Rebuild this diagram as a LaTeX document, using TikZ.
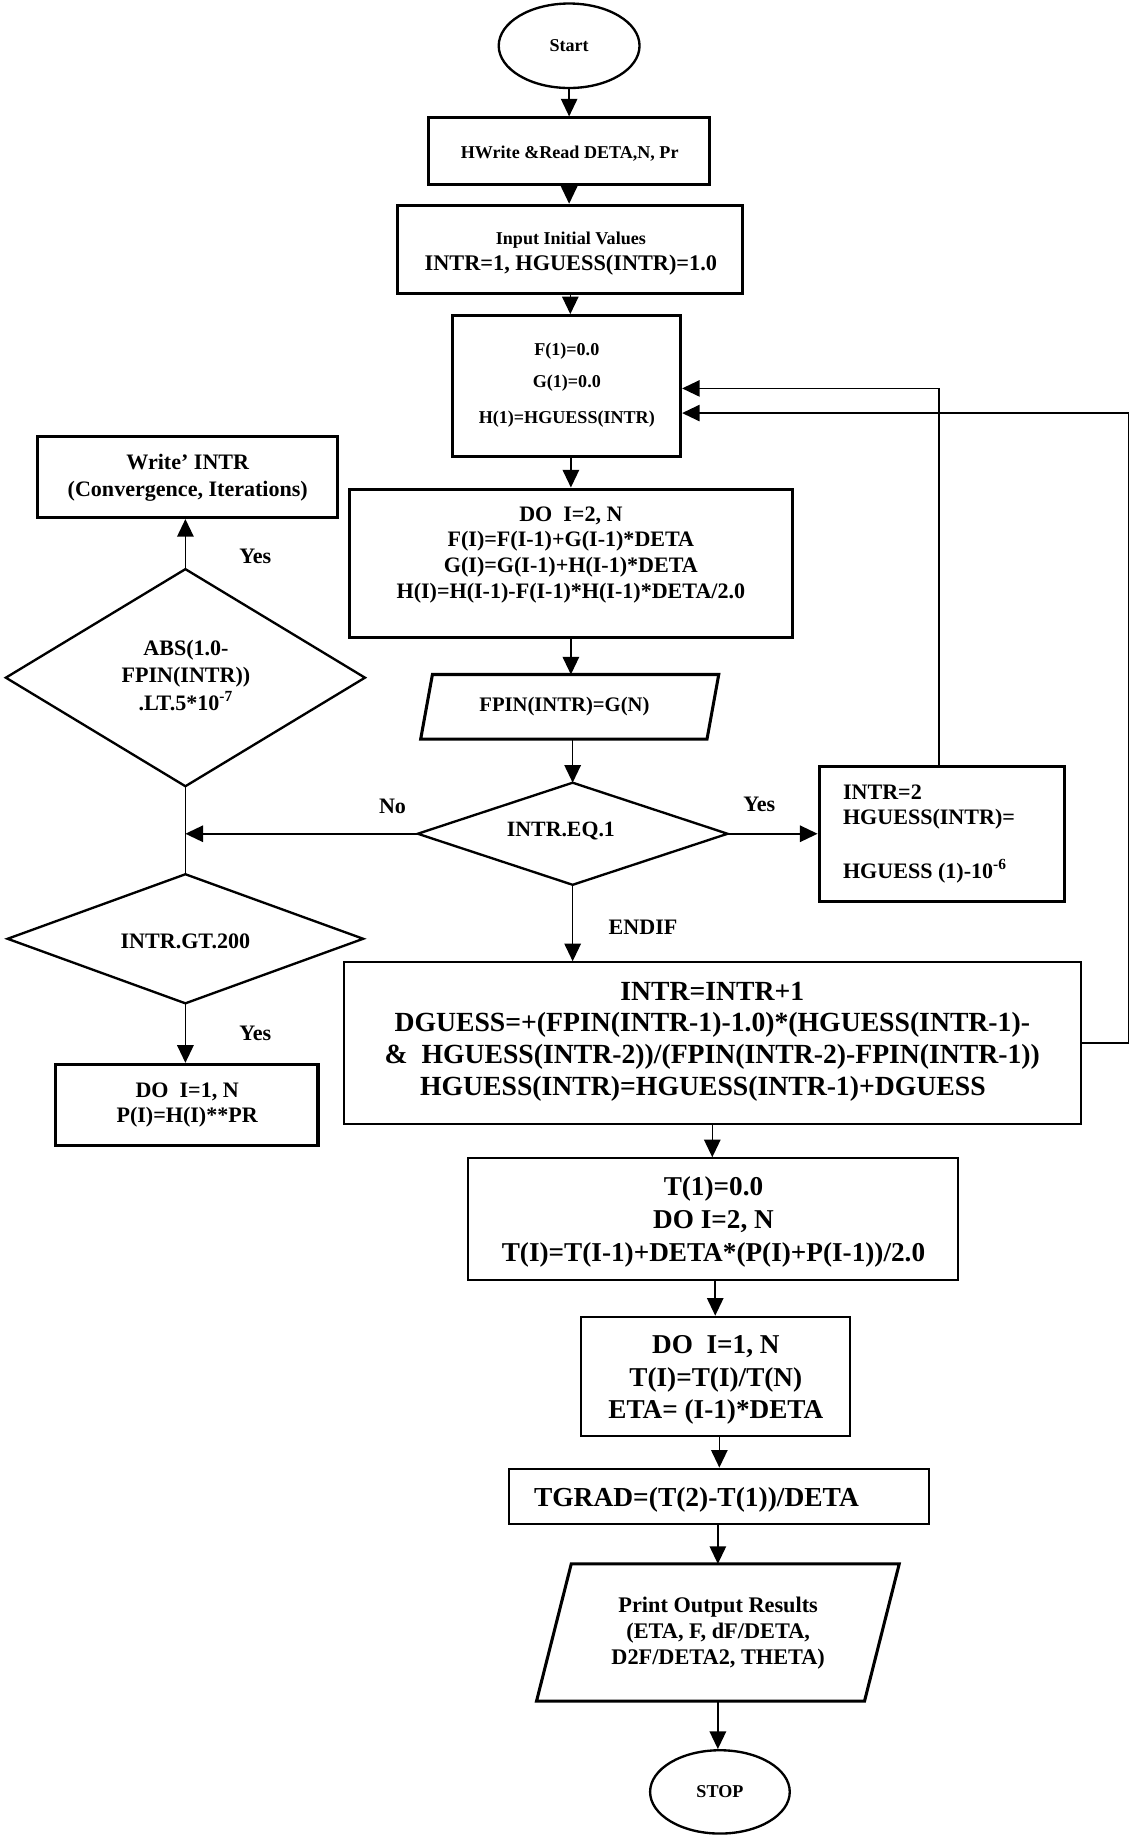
\documentclass[tikz,border=0pt]{standalone}
\usepackage{fontspec}
\setmainfont{Liberation Serif}
\usetikzlibrary{arrows.meta,shapes.geometric,calc}
\begin{document}
\begin{tikzpicture}[x=0.5pt,y=-0.5pt,
  wire/.style={line width=0.65pt},
  conn/.style={wire,-{Triangle[length=7.5pt,width=7pt]}},
  bbox/.style={draw,line width=1.3pt,inner sep=0pt},
  tbox/.style={draw,line width=0.85pt,inner sep=0pt},
  ghost/.style={inner sep=0pt,outer sep=0pt},
  dia/.style={line width=1pt,line join=miter},
  tx/.style={inner sep=0pt,align=center},
  lbl/.style={inner sep=0pt,font=\fontsize{9.4}{11}\selectfont\bfseries},
  term/.style={ellipse,draw,line width=1pt,inner sep=0pt,font=\fontsize{7.7}{9}\selectfont\bfseries},
]
\fill[white] (0,0) rectangle (966.4,1568);
\useasboundingbox (0,0) rectangle (966.4,1568);

% ---------- main column ----------
\node[term,minimum width=60pt,minimum height=36pt] (start) at (485,39) {Start};

\node[bbox,minimum width=120pt,minimum height=28.5pt] (hw) at (485,129) {};
\node[tx,font=\fontsize{7.7}{9}\selectfont\bfseries] (hwt) at (485.5,130.5) {HWrite \&Read DETA,N, Pr};

\node[bbox,minimum width=147pt,minimum height=37.5pt] (inp) at (486,212.4) {};
\node[tx,font=\fontsize{7.7}{9}\selectfont\bfseries] (inpa) at (486.5,204.5) {Input Initial Values};
\node[tx,font=\fontsize{9.5}{11}\selectfont\bfseries] (inpb) at (486.5,226) {INTR=1, HGUESS(INTR)=1.0};

\node[bbox,minimum width=97pt,minimum height=60pt] (fb) at (483,329) {};
\node[tx,font=\fontsize{7.7}{13.5}\selectfont\bfseries] (fbt) at (483,328.5) {F(1)=0.0\\G(1)=0.0\\[2pt]H(1)=HGUESS(INTR)};

\node[bbox,minimum width=188.5pt,minimum height=63.25pt] (do1) at (486.5,480) {};
\node[tx,font=\fontsize{9.4}{10.9}\selectfont\bfseries] (do1t) at (486.5,472.8) {DO~~I=2, N\\F(I)=F(I-1)+G(I-1)*DETA\\G(I)=G(I-1)+H(I-1)*DETA\\H(I)=H(I-1)-F(I-1)*H(I-1)*DETA/2.0};

\node[ghost,minimum width=122pt,minimum height=27.5pt] (fpin) at (485.5,602.3) {};
\draw[line width=1.3pt,line join=miter] ([xshift=2.5pt]fpin.north west) -- ([xshift=2.5pt]fpin.north east) -- ([xshift=-2.5pt]fpin.south east) -- ([xshift=-2.5pt]fpin.south west) -- cycle;
\node[tx,font=\fontsize{8.8}{10}\selectfont\bfseries] (fpint) at (481,602.4) {FPIN(INTR)=G(N)};

\node[ghost,minimum width=132pt,minimum height=43.5pt] (eq) at (488,710.5) {};
\draw[dia] (eq.west) -- (eq.north) -- (eq.east) -- (eq.south) -- cycle;
\node[tx,font=\fontsize{9.3}{11}\selectfont\bfseries] (eqt) at (478,708) {INTR.EQ.1};

\node[bbox,minimum width=104.5pt,minimum height=57.5pt] (int2) at (802.5,710.5) {};
\node[inner sep=0pt,align=left,anchor=west,font=\fontsize{9.4}{10.65}\selectfont\bfseries] (int2t) at (718,710.5) {INTR=2\\HGUESS(INTR)=\\[12.2pt]HGUESS (1)-10\textsuperscript{-6}};

\node[tbox,minimum width=314pt,minimum height=69pt] (upd) at (607,889) {};
\node[tx,font=\fontsize{11.8}{13.5}\selectfont\bfseries] (updt) at (607,887.5) {INTR=INTR+1\\DGUESS=+(FPIN(INTR-1)-1.0)*(HGUESS(INTR-1)-\\\&~~HGUESS(INTR-2))/(FPIN(INTR-2)-FPIN(INTR-1))\\HGUESS(INTR)=HGUESS(INTR-1)+DGUESS\hspace*{8pt}};

\node[tbox,minimum width=208.5pt,minimum height=52pt] (tb) at (607.5,1039) {};
\node[tx,font=\fontsize{11.6}{13.9}\selectfont\bfseries] (tbt) at (608,1041.4) {T(1)=0.0\\DO I=2, N\\T(I)=T(I-1)+DETA*(P(I)+P(I-1))/2.0};

\node[tbox,minimum width=114.5pt,minimum height=51pt] (do3) at (609.5,1173) {};
\node[tx,font=\fontsize{11.6}{13.75}\selectfont\bfseries] (do3t) at (610,1176) {DO~~I=1, N\\T(I)=T(I)/T(N)\\ETA= (I-1)*DETA};

\node[tbox,minimum width=179pt,minimum height=23.5pt] (tg) at (613,1275) {};
\node[tx,font=\fontsize{11.7}{13}\selectfont\bfseries] (tgt) at (593.5,1277.8) {TGRAD=(T(2)-T(1))/DETA};

\node[ghost,minimum width=139.75pt,minimum height=58.5pt] (pr) at (611.75,1391.2) {};
\draw[line width=1.3pt,line join=miter] ([xshift=7.4pt]pr.north west) -- ([xshift=7.4pt]pr.north east) -- ([xshift=-7.4pt]pr.south east) -- ([xshift=-7.4pt]pr.south west) -- cycle;
\node[tx,font=\fontsize{9.5}{10.9}\selectfont\bfseries] (prt) at (612,1391.75) {Print Output Results\\(ETA, F, dF/DETA,\\D2F/DETA2, THETA)};

\node[term,minimum width=59.5pt,minimum height=35.5pt] (stop) at (613.5,1527) {STOP};

% ---------- left column ----------
\node[bbox,minimum width=128pt,minimum height=34.5pt] (wr) at (160,406.5) {};
\node[tx,font=\fontsize{9.4}{11.3}\selectfont\bfseries] (wrt) at (160,407.3) {Write’ INTR\\(Convergence, Iterations)};

\node[ghost,minimum width=153pt,minimum height=92.5pt] (abs) at (158,577.5) {};
\draw[dia] (abs.west) -- (abs.north) -- (abs.east) -- (abs.south) -- cycle;
\node[tx,font=\fontsize{9.4}{11.8}\selectfont\bfseries] (abst) at (158.5,575.4) {ABS(1.0-\\FPIN(INTR))\\.LT.5*10\textsuperscript{-7}};

\node[ghost,minimum width=151.5pt,minimum height=55pt] (gt) at (158,800) {};
\draw[dia] (gt.west) -- (gt.north) -- (gt.east) -- (gt.south) -- cycle;
\node[tx,font=\fontsize{9.4}{11}\selectfont\bfseries] (gtt) at (158,802) {INTR.GT.200};

\node[bbox,minimum width=112pt,minimum height=34.5pt] (do2) at (159,941.5) {};
\node[tx,font=\fontsize{9.4}{11}\selectfont\bfseries] (do2t) at (159.5,941.7) {DO~~I=1, N\\P(I)=H(I)**PR};

% ---------- connectors ----------
\draw[conn] (start.south) -- (start.south |- hw.north);
\draw[conn] (hw.south) -- (hw.south |- inp.north);
\draw[conn] (inp.south) -- (inp.south |- fb.north);
\draw[conn] (do1.north |- fb.south) -- (do1.north);
\draw[conn] (do1.south) -- (do1.south |- fpin.north);
\draw[conn] (eq.north |- fpin.south) -- (eq.north);
\draw[conn] (eq.east) -- (int2.west);
\coordinate (nojoin) at (abs.south |- eq.west);
\draw[conn] (eq.west) -- (nojoin);
\draw[wire] (abs.south) -- (gt.north);
\draw[conn] (abs.north) -- (abs.north |- wr.south);
\draw[conn] (gt.south) -- (gt.south |- do2.north);
\draw[conn] (eq.south) -- (eq.south |- upd.north);
\draw[conn] ([xshift=-1.25pt]int2.north) |- ($(fb.east)+(0,2)$);
\draw[conn] (upd.east) -- ++(40,0) |- ($(fb.east)+(0,23)$);
\draw[conn] (upd.south) -- (upd.south |- tb.north);
\draw[conn] (do3.north |- tb.south) -- (do3.north);
\draw[conn] (tg.north |- do3.south) -- (tg.north);
\draw[conn] (pr.north |- tg.south) -- (pr.north);
\draw[conn] (pr.south) -- (pr.south |- stop.north);

% ---------- labels ----------
\node[lbl] (lno) at (334.5,687) {No};
\node[lbl] (lyes1) at (647,685.5) {Yes};
\node[lbl] (lyes2) at (217.5,474) {Yes};
\node[lbl] (lyes3) at (217.5,881) {Yes};
\node[lbl] (lendif) at (548,790) {ENDIF};
\end{tikzpicture}
\end{document}
